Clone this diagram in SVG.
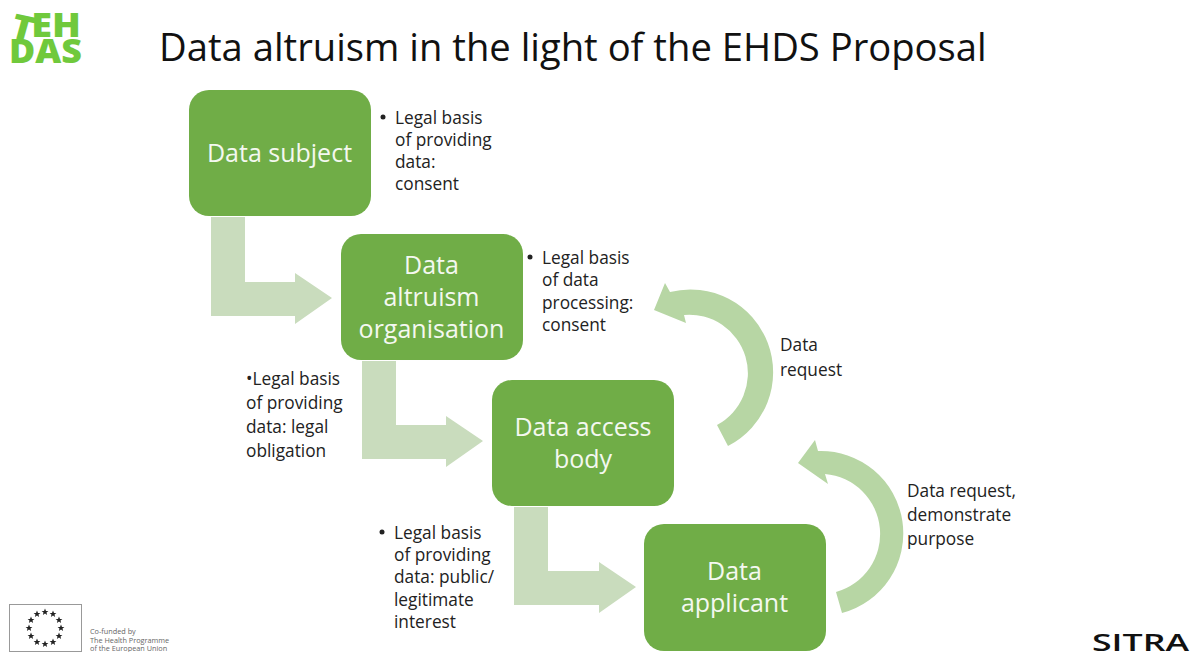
<svg xmlns="http://www.w3.org/2000/svg" width="1200" height="652" viewBox="0 0 1200 652">
<style>
text{font-family:"Open Sans","Noto Sans","Liberation Sans",sans-serif}
.box{fill:#70ad47}
.nt{fill:#f4f8f0;font-size:25px;text-anchor:middle}
.t{fill:#222;font-size:17.3px}
.el{fill:#c9dcbd}
.arc{fill:#b7d6a4}
.s{fill:#222}
.lg{font-size:34px;font-weight:800;fill:#70c93c}
</style>
<defs><polygon id="star" points="0,-3.4 1,-1 3.4,-1 1.5,.5 2.1,3 0,1.5 -2.1,3 -1.5,.5 -3.4,-1 -1,-1"/></defs>
<rect width="1200" height="652" fill="#fff"/>
<text id="title" x="159" y="61" font-size="38.2" fill="#111">Data altruism in the light of the EHDS Proposal</text>
<g id="logo"><text class="lg" x="9" y="37" textLength="72" lengthAdjust="spacingAndGlyphs" rotate="14 0 0">TEH</text><text class="lg" x="9" y="63" textLength="73" lengthAdjust="spacingAndGlyphs">DAS</text></g>
<g id="connectors">
<path class="el" d="M211 217H245V282H295V273L332 298L295 324V316H211Z"/>
<path class="el" d="M362 361H396V425H446V416L483 441L446 467V459H362Z"/>
<path class="el" d="M514 507H548V571H599V562L636 587L599 613V605H514Z"/>
<path class="arc" d="M654 310L665 283L670 292A82.8 82.8 0 0 1 728 446L717 425A58.6 58.6 0 0 0 684 315L686 323Z"/>
<path class="arc" d="M798 463L815 440L818 451A82.4 82.4 0 0 1 842 613L836 592A60.2 60.2 0 0 0 825 474L828 484Z"/>
</g>
<g id="n1"><rect class="box" x="189" y="90" width="182" height="126" rx="20"/><text class="nt" x="279.500" y="162">Data subject</text></g>
<g id="n2"><rect class="box" x="341" y="234" width="182" height="126" rx="20"/><text class="nt" x="431.500" y="274">Data</text><text class="nt" x="431.500" y="306">altruism</text><text class="nt" x="431.500" y="338">organisation</text></g>
<g id="n3"><rect class="box" x="492" y="380" width="182" height="126" rx="20"/><text class="nt" x="583" y="436">Data access</text><text class="nt" x="583" y="468">body</text></g>
<g id="n4"><rect class="box" x="644" y="524" width="182" height="127" rx="20"/><text class="nt" x="734.500" y="580">Data</text><text class="nt" x="734.500" y="612">applicant</text></g>
<g id="labels">
<circle cx="383" cy="117" r="2.5" fill="#222"/><text class="t" x="395" y="123.500">Legal basis</text><text class="t" x="395" y="145.500">of providing</text><text class="t" x="395" y="167.500">data:</text><text class="t" x="395" y="189.500">consent</text>
<circle cx="530" cy="257" r="2.5" fill="#222"/><text class="t" x="542" y="263.500">Legal basis</text><text class="t" x="542" y="285.500">of data</text><text class="t" x="542" y="308.500">processing:</text><text class="t" x="542" y="330.500">consent</text>
<text class="t" x="246" y="385">•Legal basis</text><text class="t" x="246" y="409">of providing</text><text class="t" x="246" y="433">data: legal</text><text class="t" x="246" y="457">obligation</text>
<circle cx="382" cy="532" r="2.5" fill="#222"/><text class="t" x="394" y="538.500">Legal basis</text><text class="t" x="394" y="560.500">of providing</text><text class="t" x="394" y="582.500">data: public/</text><text class="t" x="394" y="605.500">legitimate</text><text class="t" x="394" y="627.500">interest</text>
<text class="t" x="780" y="351">Data</text><text class="t" x="780" y="375.500">request</text>
<text class="t" x="907" y="496.500">Data request,</text><text class="t" x="907" y="520.500">demonstrate</text><text class="t" x="907" y="544.500">purpose</text>
</g>
<g id="eu"><rect x="9.5" y="604.5" width="72" height="47" fill="#fff" stroke="#999"/>
<g class="s"><use href="#star" x="45" y="612"/><use href="#star" x="37" y="614"/><use href="#star" x="53" y="614"/><use href="#star" x="31" y="620"/><use href="#star" x="59" y="620"/><use href="#star" x="29" y="628"/><use href="#star" x="61" y="628"/><use href="#star" x="31" y="636"/><use href="#star" x="59" y="636"/><use href="#star" x="37" y="642"/><use href="#star" x="53" y="642"/><use href="#star" x="45" y="644"/></g>
<g fill="#666" font-size="7.3"><text x="90" y="634">Co-funded by</text><text x="90" y="642.5">The Health Programme</text><text x="90" y="650.5">of the European Union</text></g></g>
<text id="sitra" x="1092" y="651" font-size="23" font-weight="600" fill="#111" textLength="97" lengthAdjust="spacingAndGlyphs">SITRA</text>
</svg>
